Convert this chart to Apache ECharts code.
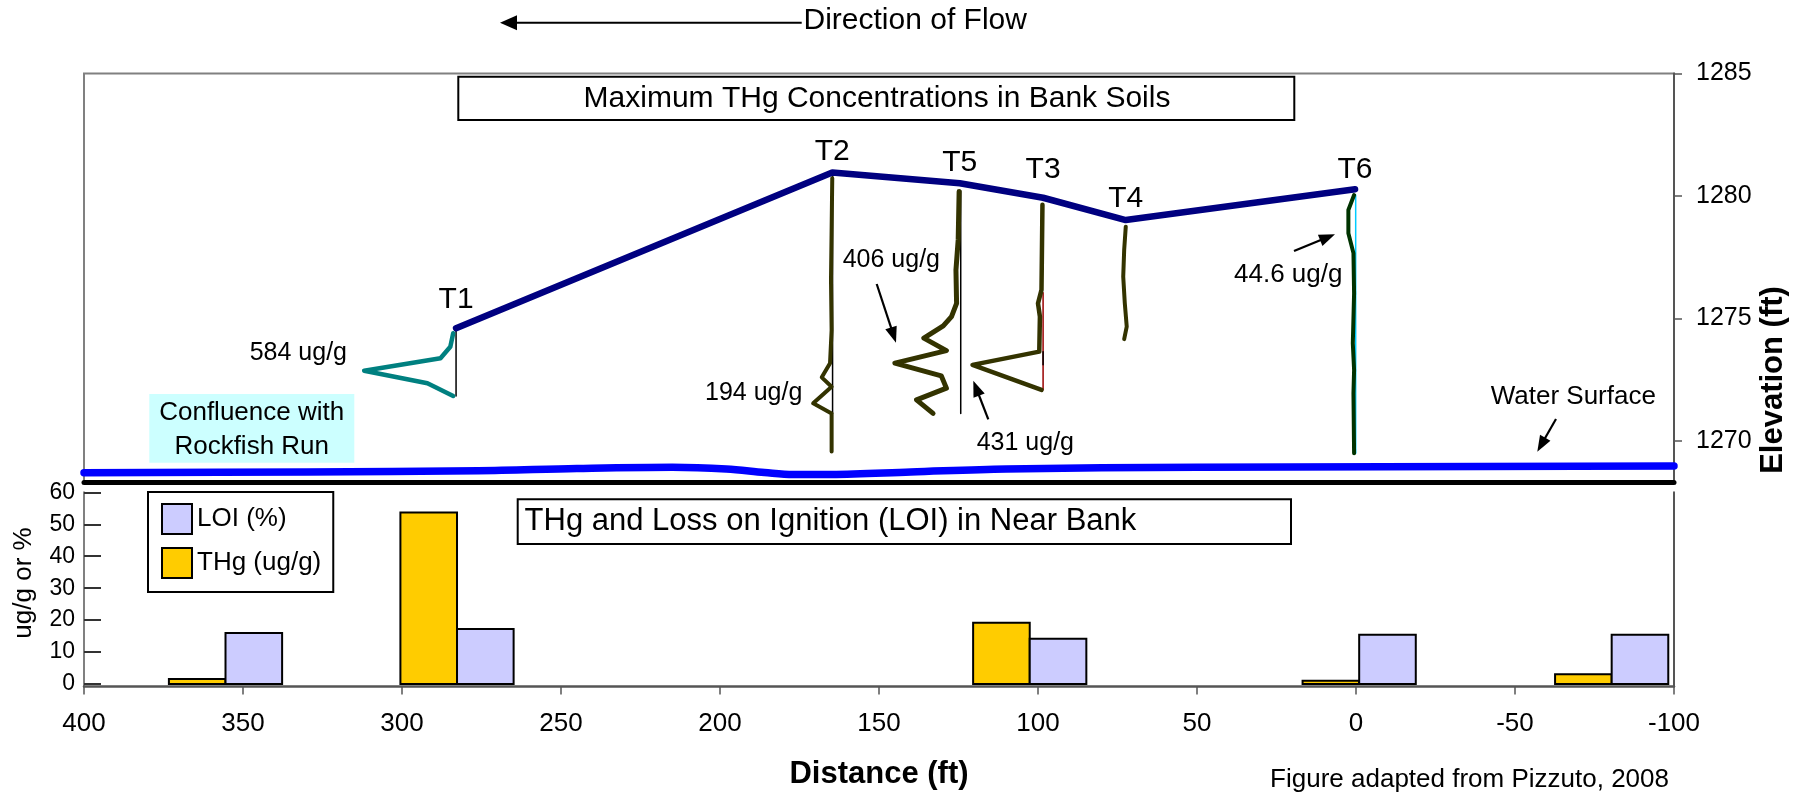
<!DOCTYPE html>
<html>
<head>
<meta charset="utf-8">
<script src="https://cdn.jsdelivr.net/npm/echarts@6/dist/echarts.min.js"></script>
<style>
html,body{margin:0;padding:0;background:#fff;}
#c{width:1808px;height:801px;}
</style>
</head>
<body>
<div id="c"></div>
<script>
const FONT = "'Liberation Sans', Arial, Helvetica, sans-serif";

// ---------- Upper panel: elevation profile (distance ft, elevation ft) ----------
const transectNames = ['T1', 'T2', 'T5', 'T3', 'T4', 'T6'];
const bankDist = [283.0, 164.7, 124.6, 98.4, 72.4, 0.3];
const bankElev = [1274.60, 1280.96, 1280.52, 1279.93, 1279.02, 1280.28];

const waterDist = [400, 330, 276, 245, 215, 198, 186, 177, 165, 140, 110, 50, -100];
const waterElev = [1268.71, 1268.74, 1268.79, 1268.88, 1268.93, 1268.86, 1268.72, 1268.64, 1268.64, 1268.74, 1268.86, 1268.93, 1268.98];

// THg depth profiles (horizontal deflection = concentration)
const t1Dist = [283.9, 284.8, 287.9, 311.9, 292.0, 283.9];
const t1Elev = [1274.40, 1273.85, 1273.38, 1272.87, 1272.36, 1271.84];
const t2Dist = [164.7, 164.9, 165.1, 164.9, 165.4, 168.0, 164.9, 170.7, 164.9, 164.9];
const t2Elev = [1280.73, 1278.62, 1276.58, 1274.53, 1273.18, 1272.60, 1272.22, 1271.54, 1271.13, 1269.57];
const t5Dist = [124.8, 125.1, 125.8, 125.6, 127.2, 129.8, 135.9, 128.8, 145.0, 130.4, 128.8, 138.2, 133.0];
const t5Elev = [1280.18, 1278.21, 1276.98, 1275.62, 1275.08, 1274.70, 1274.20, 1273.69, 1273.18, 1272.66, 1272.16, 1271.68, 1271.13];
const t3Dist = [98.6, 98.9, 100.0, 99.4, 99.6, 120.6, 98.9];
const t3Elev = [1279.64, 1276.17, 1275.62, 1275.08, 1273.65, 1273.11, 1272.09];
const t4Dist = [72.4, 72.9, 73.2, 72.7, 72.1, 72.9];
const t4Elev = [1278.75, 1277.80, 1276.71, 1275.62, 1274.67, 1274.16];
const t6Dist = [0.6, 2.4, 2.4, 0.8, 0.6, 1.0, 0.6, 0.8, 0.6];
const t6Elev = [1280.04, 1279.43, 1278.48, 1277.67, 1276.03, 1273.99, 1272.90, 1271.95, 1269.50];

// zero-concentration baselines
const t1BaseDist = [283.0, 283.0];  const t1BaseElev = [1274.60, 1271.84];
const t2BaseDist = [164.6, 164.6];  const t2BaseElev = [1280.80, 1271.13];
const t5BaseDist = [124.3, 124.3];  const t5BaseElev = [1280.20, 1271.13];
const t3BaseDist = [98.4, 98.4];    const t3BaseElev = [1276.05, 1272.09];
const t3MidDist = [98.4, 98.4];     const t3MidElev = [1273.65, 1273.11];
const t6BaseDist = [0.1, 0.1];      const t6BaseElev = [1280.04, 1269.50];

const elevTicks = [1270, 1275, 1280, 1285];

// ---------- Lower panel: THg and LOI in near bank ----------
const barDist = [355.5, 282.7, 102.6, -1.0, -80.4];
const thgVals = [1.6, 53.7, 19.2, 1.0, 3.1];
const loiVals = [16.0, 17.2, 14.2, 15.4, 15.4];
const pctTicks = [0, 10, 20, 30, 40, 50, 60];
const barWidthFt = 17.8;

// ---------- helpers ----------
function pairs(xs, ys) { return xs.map((x, i) => [x, ys[i]]); }

function lineSeries(name, xs, ys, color, width, z, extra) {
  return Object.assign({
    name: name,
    type: 'line',
    xAxisIndex: 0,
    yAxisIndex: 0,
    data: pairs(xs, ys),
    showSymbol: false,
    symbol: 'none',
    silent: true,
    z: z,
    lineStyle: { color: color, width: width, cap: 'round', join: 'round' }
  }, extra || {});
}

function barRender(side, fill) {
  return function (params, api) {
    const d = api.value(0), v = api.value(1);
    const xl = side < 0 ? d + barWidthFt : d;
    const xr = side < 0 ? d : d - barWidthFt;
    const p0 = api.coord([xl, v]);
    const p1 = api.coord([xr, 0]);
    return {
      type: 'rect',
      shape: { x: p0[0], y: p0[1], width: p1[0] - p0[0], height: p1[1] - p0[1] },
      style: { fill: fill, stroke: '#000', lineWidth: 2 }
    };
  };
}

function arrow(x1, y1, x2, y2, lw, hl, hw) {
  const dx = x2 - x1, dy = y2 - y1, L = Math.sqrt(dx * dx + dy * dy);
  const ux = dx / L, uy = dy / L, nx = -uy, ny = ux;
  const bx = x2 - ux * hl, by = y2 - uy * hl;
  return [
    { type: 'line', z: 20, shape: { x1: x1, y1: y1, x2: bx + ux * 2, y2: by + uy * 2 },
      style: { stroke: '#000', lineWidth: lw } },
    { type: 'polygon', z: 20, shape: { points: [[x2, y2], [bx + nx * hw / 2, by + ny * hw / 2], [bx - nx * hw / 2, by - ny * hw / 2]] },
      style: { fill: '#000' } }
  ];
}

function txt(s, x, y, size, align, extra) {
  return Object.assign({
    type: 'text', z: 20, x: x, y: y,
    style: { text: s, fill: '#000', font: size + 'px ' + FONT, textAlign: align || 'left', textVerticalAlign: 'middle' }
  }, extra || {});
}

const tLabelGap = [13, 5, 5, 12, 5, 3];

const chart = echarts.init(document.getElementById('c'), null, { renderer: 'canvas' });

const option = {
  animation: false,
  backgroundColor: '#fff',
  textStyle: { fontFamily: FONT },
  grid: [
    { left: 84, top: 73.5, width: 1590, height: 408.5, show: true, borderColor: '#808080', borderWidth: 2, backgroundColor: 'transparent' },
    { left: 84, top: 492.3, width: 1590, height: 194.3, show: false }
  ],
  xAxis: [
    { gridIndex: 0, type: 'value', min: -100, max: 400, inverse: true,
      axisLabel: { show: false }, axisTick: { show: false }, splitLine: { show: false },
      axisLine: { show: true, onZero: false, lineStyle: { color: '#000', width: 5 } } },
    { gridIndex: 1, type: 'value', min: -100, max: 400, interval: 50, inverse: true,
      axisLabel: { fontSize: 26, margin: 24, color: '#000', fontFamily: FONT },
      axisTick: { show: true, length: 8, lineStyle: { color: '#555', width: 1.5 } },
      axisLine: { show: true, onZero: false, lineStyle: { color: '#555', width: 2.5 } },
      splitLine: { show: false } }
  ],
  yAxis: [
    { gridIndex: 0, type: 'value', position: 'right', min: 1268.33, max: 1285,
      axisLine: { show: true, onZero: false, lineStyle: { color: '#555', width: 2 } },
      axisTick: { show: true, length: 8, customValues: elevTicks, lineStyle: { color: '#555', width: 1.5 } },
      axisLabel: { customValues: elevTicks, fontSize: 25, margin: 22, color: '#000', fontFamily: FONT,
                   formatter: function (v) { return String(Math.round(v)); } },
      splitLine: { show: false } },
    { gridIndex: 1, type: 'value', position: 'left', min: -0.8, max: 60,
      axisLine: { show: true, onZero: false, lineStyle: { color: '#808080', width: 2 } },
      axisTick: { show: true, inside: true, length: 17, customValues: pctTicks, lineStyle: { color: '#333', width: 2 } },
      axisLabel: { customValues: pctTicks, fontSize: 23, margin: 9, color: '#000', fontFamily: FONT },
      splitLine: { show: false } },
    { gridIndex: 1, type: 'value', position: 'right', min: -0.8, max: 60,
      axisLine: { show: true, onZero: false, lineStyle: { color: '#555', width: 2 } },
      axisTick: { show: false }, axisLabel: { show: false }, splitLine: { show: false } }
  ],
  legend: {
    show: true, left: 148, top: 492, orient: 'vertical',
    data: ['LOI (%)', 'THg (ug/g)'],
    itemWidth: 30, itemHeight: 30, itemGap: 12,
    padding: [11, 12, 13, 13],
    borderColor: '#000', borderWidth: 2, borderRadius: 0,
    icon: 'rect', selectedMode: false,
    itemStyle: { borderColor: '#000', borderWidth: 2 },
    textStyle: { fontSize: 26, color: '#000', fontFamily: FONT }
  },
  series: [
    // water surface
    lineSeries('Water Surface', waterDist, waterElev, '#0000FF', 7.5, 3, { smooth: 0.35 }),
    // baselines
    lineSeries('b1', t1BaseDist, t1BaseElev, '#000', 1.5, 4),
    lineSeries('b2', t2BaseDist, t2BaseElev, '#000', 1.5, 4),
    lineSeries('b5', t5BaseDist, t5BaseElev, '#000', 1.5, 4),
    lineSeries('b3', t3BaseDist, t3BaseElev, '#990000', 1.5, 4),
    lineSeries('b3m', t3MidDist, t3MidElev, '#000', 1.5, 4),
    lineSeries('b6', t6BaseDist, t6BaseElev, '#00CCFF', 1.5, 4),
    // profiles
    lineSeries('T1 profile', t1Dist, t1Elev, '#008080', 4.5, 5),
    lineSeries('T2 profile', t2Dist, t2Elev, '#333300', 4, 5),
    lineSeries('T5 profile', t5Dist, t5Elev, '#333300', 5, 5),
    lineSeries('T3 profile', t3Dist, t3Elev, '#333300', 4.5, 5),
    lineSeries('T4 profile', t4Dist, t4Elev, '#333300', 4, 5),
    lineSeries('T6 profile', t6Dist, t6Elev, '#003300', 4, 5),
    // bank top
    {
      name: 'Bank', type: 'line', xAxisIndex: 0, yAxisIndex: 0, silent: true, z: 6,
      symbol: 'circle', symbolSize: 2, showSymbol: true,
      itemStyle: { color: '#000080' },
      lineStyle: { color: '#000080', width: 6.5, cap: 'round', join: 'round' },
      labelLayout: { hideOverlap: false },
      data: bankDist.map((d, i) => ({
        value: [d, bankElev[i]],
        label: { show: true, position: 'top', distance: tLabelGap[i], formatter: transectNames[i],
                 fontSize: 30, color: '#000', fontFamily: FONT }
      }))
    },
    // near-bank bars
    { name: 'THg (ug/g)', type: 'custom', xAxisIndex: 1, yAxisIndex: 1, silent: true,
      itemStyle: { color: '#FFCC00' }, encode: { x: 0, y: 1 },
      data: pairs(barDist, thgVals), renderItem: barRender(-1, '#FFCC00') },
    { name: 'LOI (%)', type: 'custom', xAxisIndex: 1, yAxisIndex: 1, silent: true,
      itemStyle: { color: '#CCCCFF' }, encode: { x: 0, y: 1 },
      data: pairs(barDist, loiVals), renderItem: barRender(1, '#CCCCFF') }
  ],
  graphic: [
    // direction of flow
    ...arrow(801.7, 22.7, 500, 22.7, 2, 17, 15),
    txt('Direction of Flow', 803.5, 21, 30, 'left'),
    // upper title box
    { type: 'rect', z: 15, shape: { x: 458.3, y: 76.7, width: 836, height: 43.3 },
      style: { fill: '#fff', stroke: '#000', lineWidth: 2 } },
    txt('Maximum THg Concentrations in Bank Soils', 877, 98.5, 30, 'center'),
    // lower title box
    { type: 'rect', z: 15, shape: { x: 517.7, y: 499.3, width: 773.3, height: 44.7 },
      style: { fill: '#fff', stroke: '#000', lineWidth: 2 } },
    txt('THg and Loss on Ignition (LOI) in Near Bank', 524.6, 521.7, 31, 'left'),
    // confluence box
    { type: 'rect', z: 15, shape: { x: 149.3, y: 394, width: 205, height: 68.7 },
      style: { fill: '#CCFFFF' } },
    txt('Confluence with', 251.7, 413.3, 26, 'center'),
    txt('Rockfish Run', 251.7, 446.7, 26, 'center'),
    // concentration annotations
    txt('584 ug/g', 249.7, 353.3, 25, 'left'),
    txt('194 ug/g', 705, 393.3, 25, 'left'),
    txt('406 ug/g', 842.7, 260, 25, 'left'),
    ...arrow(876.7, 284, 896, 342.7, 2.2, 16, 12),
    txt('431 ug/g', 976.7, 443.3, 25, 'left'),
    ...arrow(988.3, 419.3, 973.3, 380.7, 2.2, 16, 12),
    txt('44.6 ug/g', 1234, 275, 26, 'left'),
    ...arrow(1294, 251, 1335, 234.3, 2.2, 16, 12),
    txt('Water Surface', 1490.7, 397.3, 26, 'left'),
    ...arrow(1556, 419, 1537.3, 451.7, 2.2, 16, 12),
    // axis titles
    txt('Elevation (ft)', 1773, 380, 31, 'center', { rotation: Math.PI / 2,
      style: { text: 'Elevation (ft)', fill: '#000', font: 'bold 31px ' + FONT, textAlign: 'center', textVerticalAlign: 'middle' } }),
    txt('ug/g or %', 24, 583, 26, 'center', { rotation: Math.PI / 2 }),
    txt('Distance (ft)', 879, 774.5, 31, 'center', {
      style: { text: 'Distance (ft)', fill: '#000', font: 'bold 31px ' + FONT, textAlign: 'center', textVerticalAlign: 'middle' } }),
    txt('Figure adapted from Pizzuto, 2008', 1669, 780, 26, 'right')
  ]
};

chart.setOption(option);
</script>
</body>
</html>
